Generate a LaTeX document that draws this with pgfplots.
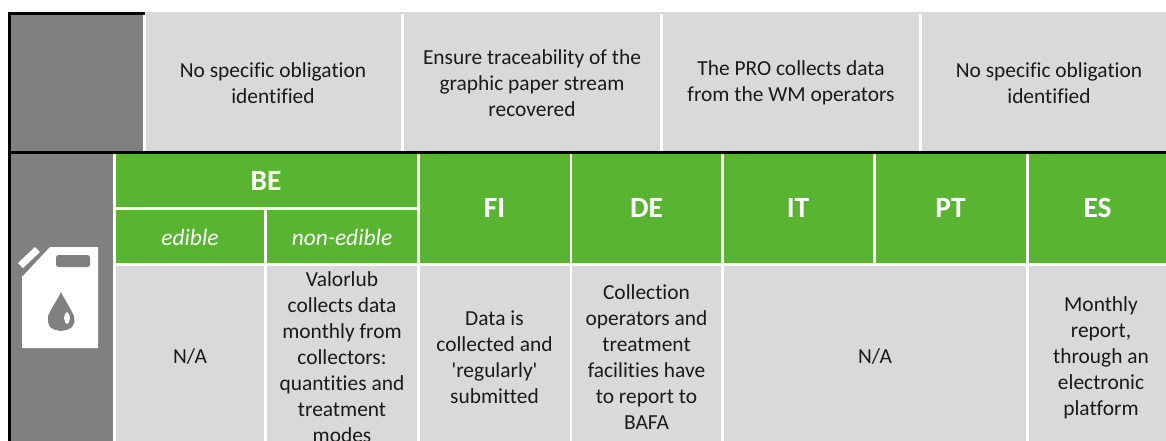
\documentclass[border=0pt]{standalone}
\usepackage{pgfplots}
\pgfplotsset{compat=1.18}
\usepackage{fontspec}
\setmainfont{Carlito}[Ligatures={TeXOff,NoCommon}]
\definecolor{grn}{HTML}{58B431}
\definecolor{drk}{HTML}{808080}
\definecolor{lgt}{HTML}{D9D9D9}
\definecolor{txt}{HTML}{1A1A1A}
\newcommand{\cell}[5]{\addplot[fill=#5,draw=none,forget plot] coordinates {(#1,#2)(#3,#2)(#3,#4)(#1,#4)} --cycle;}
\newcommand{\body}[3]{\node[overlay,align=center,text=txt,inner sep=0pt,font={\fontsize{21.5}{26.1}\selectfont}] at (axis cs:#1,#2) {#3};}
\newcommand{\head}[3]{\node[overlay,align=center,text=white,inner sep=0pt,font={\fontsize{29.5}{30}\selectfont\bfseries}] at (axis cs:#1,#2) {#3};}
\newcommand{\subh}[3]{\node[overlay,align=center,text=white,inner sep=0pt,font={\fontsize{23.5}{26}\selectfont\itshape}] at (axis cs:#1,#2) {#3};}
\begin{document}
\begin{tikzpicture}
\begin{axis}[at={(0,0)},anchor=south west,scale only axis,width=1166bp,height=441bp,
  xmin=0,xmax=1166,ymin=0,ymax=441,y dir=reverse,hide axis,clip=true]
% page
\cell{0}{0}{1166}{441}{white}
% black frame
\cell{8}{12}{145}{15}{black}
\cell{8}{151}{1166}{154}{black}
\cell{8}{12}{11}{441}{black}
% grey icon cells
\cell{11}{15}{143}{151}{drk}
\cell{11}{154}{113}{441}{drk}
% top row
\cell{146}{12}{401}{151}{lgt}
\cell{404}{12}{660}{151}{lgt}
\cell{663}{12}{919}{151}{lgt}
\cell{921.5}{12}{1166}{151}{lgt}
\cell{145}{12}{146}{14}{lgt}
\cell{401}{12}{404}{14}{lgt}
\cell{660}{12}{663}{14}{lgt}
\cell{919}{12}{921.5}{14}{lgt}
% header row
\cell{116}{154}{417}{207}{grn}
\cell{116}{209.5}{264}{263}{grn}
\cell{267}{209.5}{417}{263}{grn}
\cell{420}{154}{569.5}{263}{grn}
\cell{572}{154}{721}{263}{grn}
\cell{724}{154}{873}{263}{grn}
\cell{876}{154}{1026}{263}{grn}
\cell{1029}{154}{1166}{263}{grn}
% body row
\cell{116}{266}{264}{441}{lgt}
\cell{267}{266}{417}{441}{lgt}
\cell{420}{266}{569.5}{441}{lgt}
\cell{572}{266}{721}{441}{lgt}
\cell{724}{266}{1026}{441}{lgt}
\cell{1029}{266}{1166}{441}{lgt}
% canister icon
\addplot[fill=white,draw=none,forget plot] coordinates {(22,277)(50,247)(98,247)(98,348)(22,348)} --cycle;
\addplot[fill=white,draw=none,forget plot] coordinates {(18,263)(35,247)(40,252)(23,268)} --cycle;
\addplot[fill=drk,draw=none,rounded corners=2.5pt,forget plot] coordinates {(56,255)(90,255)(90,267)(56,267)} --cycle;
\addplot[fill=drk,draw=none,forget plot] coordinates {(61,292)(63,296)(67,303)(71,310)(74,316)(74.5,322)(72,327)(68,329.5)(61,331)(54,329.5)(50,327)(48,322)(48,316)(51,310)(55,303)(59,296)} --cycle;
\addplot[fill=white,draw=none,forget plot] coordinates {(67,312)(69,314)(70,318)(69,322)(67,324)(65,322)(64,318)(65,314)} --cycle;
% text top
\body{273}{83}{No specific obligation\\identified}
\body{532}{83}{Ensure traceability of the\\graphic paper stream\\recovered}
\body{791}{83}{The PRO collects data\\from the WM operators}
\body{1049}{83}{No specific obligation\\identified}
% headers
\head{266}{180.5}{BE}
\head{494.5}{208}{FI}
\head{646.5}{208}{DE}
\head{798}{208}{IT}
\head{950.5}{208}{PT}
\head{1097.5}{208}{ES}
\subh{190}{237}{edible}
\subh{342}{237}{non-edible}
% body text
\body{190}{357}{N/A}
\body{342}{357.5}{Valorlub\\collects data\\monthly from\\collectors:\\quantities and\\treatment\\modes}
\body{494.5}{357.5}{Data is\\collected and\\'regularly'\\submitted}
\body{646.5}{357.5}{Collection\\operators and\\treatment\\facilities have\\to report to\\BAFA}
\body{875}{357}{N/A}
\body{1101}{358}{Monthly\\report,\\through an\\electronic\\platform}
\end{axis}
\end{tikzpicture}
\end{document}
